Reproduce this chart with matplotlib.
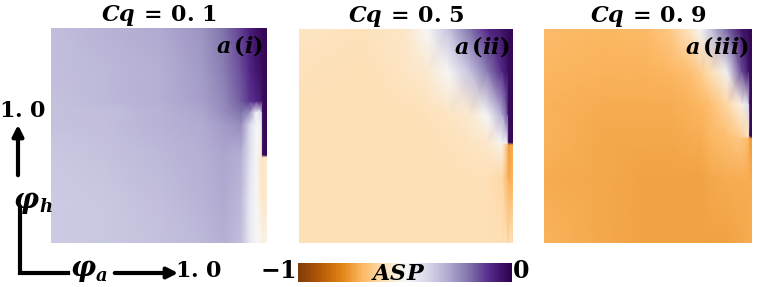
import numpy as np
import matplotlib
matplotlib.use('Agg')
import matplotlib.pyplot as plt

plt.rcParams['mathtext.fontset'] = 'dejavuserif'
plt.rcParams['font.family'] = 'DejaVu Serif'

# ASP maps, rows = phi_h from bottom (0) to top (1), columns = phi_a
titles = ['0.1', '0.5', '0.9']
tags = ['i', 'ii', 'iii']

x1 = [0, 0.25, 0.5, 0.7, 0.8, 0.88, 0.92, 0.95, 0.975, 0.98, 1.0]
y1 = [0, 0.2, 0.4, 0.41, 0.55, 0.61, 0.66, 0.8, 1.0]
asp1 = [
    [-0.37, -0.36, -0.35, -0.33, -0.31, -0.34, -0.45, -0.50, -0.50, -0.52, -0.52],
    [-0.37, -0.36, -0.34, -0.32, -0.30, -0.33, -0.45, -0.50, -0.56, -0.58, -0.55],
    [-0.36, -0.35, -0.33, -0.31, -0.29, -0.31, -0.42, -0.50, -0.58, -0.58, -0.55],
    [-0.36, -0.35, -0.33, -0.31, -0.29, -0.31, -0.42, -0.50, -0.55, -0.03, -0.02],
    [-0.35, -0.34, -0.32, -0.30, -0.27, -0.25, -0.40, -0.50, -0.48, -0.03, -0.02],
    [-0.35, -0.34, -0.32, -0.29, -0.25, -0.20, -0.25, -0.48, -0.40, -0.03, -0.02],
    [-0.35, -0.33, -0.31, -0.28, -0.24, -0.17, -0.12, -0.10, -0.06, -0.03, -0.02],
    [-0.34, -0.33, -0.31, -0.27, -0.22, -0.15, -0.10, -0.06, -0.04, -0.03, -0.02],
    [-0.34, -0.32, -0.30, -0.26, -0.20, -0.13, -0.08, -0.05, -0.03, -0.02, -0.02],
]

x2 = [0, 0.3, 0.5, 0.6, 0.7, 0.8, 0.88, 0.95, 0.975, 0.98, 1.0]
y2 = [0, 0.3, 0.46, 0.47, 0.6, 0.8, 1.0]
asp2 = [
    [-0.60, -0.60, -0.60, -0.60, -0.60, -0.60, -0.60, -0.60, -0.60, -0.60, -0.58],
    [-0.60, -0.60, -0.60, -0.60, -0.60, -0.60, -0.60, -0.62, -0.70, -0.72, -0.70],
    [-0.60, -0.60, -0.60, -0.60, -0.59, -0.58, -0.57, -0.52, -0.70, -0.75, -0.72],
    [-0.60, -0.60, -0.60, -0.60, -0.59, -0.58, -0.57, -0.50, -0.45, -0.03, -0.02],
    [-0.60, -0.60, -0.60, -0.59, -0.58, -0.56, -0.50, -0.30, -0.15, -0.03, -0.02],
    [-0.59, -0.60, -0.58, -0.56, -0.50, -0.35, -0.22, -0.10, -0.04, -0.03, -0.02],
    [-0.58, -0.59, -0.57, -0.50, -0.35, -0.20, -0.10, -0.05, -0.03, -0.02, -0.02],
]

x3 = [0, 0.3, 0.5, 0.6, 0.7, 0.75, 0.8, 0.88, 0.95, 0.985, 0.99, 1.0]
y3 = [0, 0.3, 0.49, 0.5, 0.65, 0.8, 1.0]
asp3 = [
    [-0.71, -0.73, -0.74, -0.74, -0.74, -0.74, -0.74, -0.74, -0.73, -0.72, -0.72, -0.72],
    [-0.72, -0.73, -0.74, -0.74, -0.74, -0.74, -0.73, -0.72, -0.72, -0.72, -0.72, -0.72],
    [-0.71, -0.73, -0.73, -0.73, -0.72, -0.72, -0.70, -0.68, -0.66, -0.70, -0.75, -0.75],
    [-0.71, -0.73, -0.73, -0.73, -0.72, -0.72, -0.70, -0.68, -0.64, -0.58, -0.03, -0.02],
    [-0.71, -0.72, -0.72, -0.72, -0.71, -0.70, -0.68, -0.62, -0.52, -0.40, -0.03, -0.02],
    [-0.70, -0.71, -0.71, -0.70, -0.68, -0.65, -0.60, -0.48, -0.15, -0.05, -0.03, -0.02],
    [-0.69, -0.70, -0.69, -0.66, -0.58, -0.50, -0.36, -0.18, -0.05, -0.03, -0.02, -0.02],
]

W, H = 761, 287
fig = plt.figure(figsize=(W / 100, H / 100), dpi=100)

boxes = [(51, 28, 216, 215), (299, 29, 214, 214), (544, 29, 208, 214)]
maps = [(x1, y1, asp1), (x2, y2, asp2), (x3, y3, asp3)]

mesh = None
for (px, py, pw, ph), (xs, ys, z), t, tag in zip(boxes, maps, titles, tags):
    ax = fig.add_axes([px / W, 1 - (py + ph) / H, pw / W, ph / H])
    mesh = ax.pcolormesh(xs, ys, np.array(z), cmap='PuOr', vmin=-1, vmax=0,
                         shading='gouraud')
    ax.set_xlim(0, 1)
    ax.set_ylim(0, 1)
    ax.set_xticks([])
    ax.set_yticks([])
    for s in ax.spines.values():
        s.set_visible(False)
    ax.set_title(r'$\mathbfit{Cq}\:\mathbf{=}\:\mathbf{0.\,%s}$' % t[-1], fontsize=16, pad=3)
    ax.text(0.985, 0.975, r'$\mathbfit{a}\,\mathbf{(}\mathbfit{%s}\mathbf{)}$' % tag,
            transform=ax.transAxes, ha='right', va='top', fontsize=16)

cax = fig.add_axes([298 / W, 1 - 282 / H, 214 / W, 19 / H])
cb = fig.colorbar(mesh, cax=cax, orientation='horizontal')
cb.set_ticks([])
cb.outline.set_visible(False)
cax.text(0.47, 0.42, r'$\mathbfit{ASP}$', transform=cax.transAxes, ha='center',
         va='center', fontsize=16)

# overlay for axis arrows and labels, in pixel units
ov = fig.add_axes([0, 0, 1, 1])
ov.set_xlim(0, W)
ov.set_ylim(H, 0)
ov.axis('off')

ov.text(278, 271, r'$\mathbf{-1}$', ha='center', va='center', fontsize=17)
ov.text(521, 271, r'$\mathbf{0}$', ha='center', va='center', fontsize=17)

ov.plot([20, 20, 68], [207, 273, 273], color='black', lw=3, solid_joinstyle='miter')
ov.annotate('', xy=(18, 122), xytext=(18, 178),
            arrowprops=dict(arrowstyle='-|>', color='black', lw=3, mutation_scale=16))
ov.annotate('', xy=(181, 273), xytext=(112, 273),
            arrowprops=dict(arrowstyle='-|>', color='black', lw=3, mutation_scale=16))
ov.text(23, 111, r'$\mathbf{1.\,0}$', ha='center', va='center', fontsize=16)
ov.text(199, 271, r'$\mathbf{1.\,0}$', ha='center', va='center', fontsize=16)

phi = dict(fontweight='bold', fontstyle='italic', family='DejaVu Serif', color='black')
ov.text(26, 200, 'φ', ha='center', va='center', fontsize=20, **phi)
ov.text(39, 207, 'h', ha='left', va='center', fontsize=13, **phi)
ov.text(83, 268, 'φ', ha='center', va='center', fontsize=20, **phi)
ov.text(96, 276, 'a', ha='left', va='center', fontsize=13, **phi)

fig.savefig('out.png', dpi=100)
